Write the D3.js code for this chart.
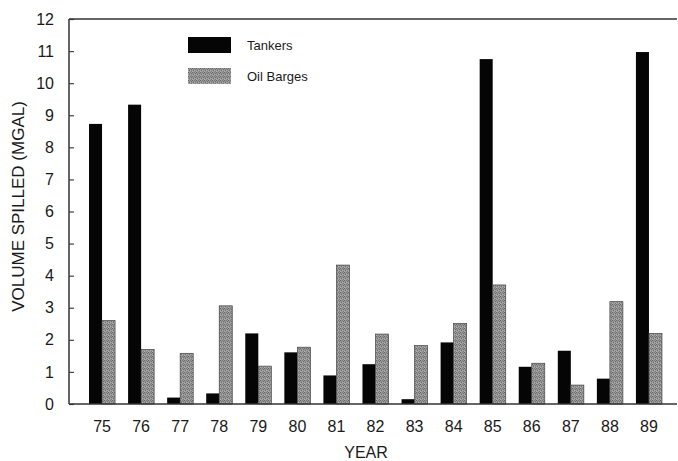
<!DOCTYPE html>
<html>
<head>
<meta charset="utf-8">
<script src="https://cdn.jsdelivr.net/npm/d3@7"></script>
<style>
  body { margin: 0; background: #fff; }
  svg { display: block; font-family: "Liberation Sans", Arial, sans-serif; }
</style>
</head>
<body>
<div id="chart"></div>
<script>
// values (million gallons)
var years = ["75", "76", "77", "78", "79", "80", "81", "82", "83", "84", "85", "86", "87", "88", "89"];
var tankers = [8.73, 9.33, 0.2, 0.33, 2.2, 1.61, 0.89, 1.24, 0.15, 1.92, 10.75, 1.16, 1.66, 0.79, 10.97];
var barges = [2.6, 1.7, 1.58, 3.06, 1.18, 1.77, 4.33, 2.18, 1.82, 2.51, 3.71, 1.27, 0.59, 3.19, 2.2];
var yTicks = [0, 1, 2, 3, 4, 5, 6, 7, 8, 9, 10, 11, 12];
var seriesNames = ["Tankers", "Oil Barges"];

var width = 678, height = 461;
// note: "top" is taken by window.top, so plot edges get their own names
var plotL = 69, plotR = 677, plotT = 19, plotB = 404;

var svg = d3.select("#chart").append("svg")
  .attr("width", width)
  .attr("height", height);

// stipple texture for the barge bars (4x4 tile, irregular low-contrast dots)
var defs = svg.append("defs");
var pat = defs.append("pattern")
  .attr("id", "stipple")
  .attr("patternUnits", "userSpaceOnUse")
  .attr("width", 4).attr("height", 4);
pat.append("rect").attr("width", 4).attr("height", 4).attr("fill", "#9a9a9a");
[[0, 0, "#666"], [2, 0, "#7a7a7a"], [3, 1, "#6c6c6c"], [1, 2, "#707070"],
 [3, 3, "#787878"], [0, 3, "#b0b0b0"], [2, 2, "#acacac"], [1, 1, "#858585"]].forEach(function(p) {
  pat.append("rect").attr("x", p[0]).attr("y", p[1]).attr("width", 1).attr("height", 1).attr("fill", p[2]);
});

var fills = ["#050505", "url(#stipple)"];

var x = d3.scaleBand()
  .domain(years)
  .range([76, 675])
  .paddingInner(1 / 3)
  .paddingOuter(1 / 3);

var y = d3.scaleLinear()
  .domain([0, 12])
  .range([plotB, plotT]);

var bw = x.bandwidth() / 2;

// bars
var groups = svg.selectAll("g.year")
  .data(years)
  .enter()
  .append("g")
  .attr("class", "year");

groups.append("rect")
  .attr("x", function(d) { return x(d); })
  .attr("y", function(d, i) { return y(tankers[i]); })
  .attr("width", bw)
  .attr("height", function(d, i) { return plotB - y(tankers[i]); })
  .attr("fill", fills[0]);

groups.append("rect")
  .attr("x", function(d) { return x(d) + bw; })
  .attr("y", function(d, i) { return y(barges[i]); })
  .attr("width", bw)
  .attr("height", function(d, i) { return plotB - y(barges[i]); })
  .attr("fill", fills[1])
  .attr("stroke", "#444")
  .attr("stroke-width", 0.7);

// y axis, ticks pointing inward
var yAxis = svg.append("g")
  .attr("transform", "translate(" + plotL + ",0)")
  .call(d3.axisLeft(y).tickValues(yTicks).tickSizeInner(-5).tickSizeOuter(0).tickPadding(15));
yAxis.select(".domain").remove();
yAxis.selectAll(".tick line").attr("stroke", "#444").attr("stroke-width", 1.2);
yAxis.selectAll("text")
  .attr("font-size", 16)
  .attr("fill", "#1a1a1a")
  .attr("font-family", "Liberation Sans, Arial, sans-serif");

// x axis labels
var xAxis = svg.append("g")
  .attr("transform", "translate(0," + plotB + ")")
  .call(d3.axisBottom(x).tickSize(0).tickPadding(17));
xAxis.select(".domain").remove();
xAxis.selectAll("text")
  .attr("font-size", 16)
  .attr("fill", "#1a1a1a")
  .attr("font-family", "Liberation Sans, Arial, sans-serif");

// frame lines: left, top, bottom
svg.append("line")
  .attr("x1", plotL).attr("x2", plotL).attr("y1", plotT).attr("y2", plotB)
  .attr("stroke", "#333").attr("stroke-width", 1.5);
svg.append("line")
  .attr("x1", plotL).attr("x2", plotR).attr("y1", plotT).attr("y2", plotT)
  .attr("stroke", "#333").attr("stroke-width", 1.5);
svg.append("line")
  .attr("x1", plotL).attr("x2", plotR).attr("y1", plotB).attr("y2", plotB)
  .attr("stroke", "#333").attr("stroke-width", 1.5);

// axis titles
svg.append("text")
  .attr("transform", "translate(24," + ((plotT + plotB) / 2 - 5) + ") rotate(-90)")
  .attr("text-anchor", "middle")
  .attr("font-size", 17)
  .attr("fill", "#1a1a1a")
  .text("VOLUME SPILLED (MGAL)");

svg.append("text")
  .attr("x", 366)
  .attr("y", 458)
  .attr("text-anchor", "middle")
  .attr("font-size", 16)
  .attr("fill", "#1a1a1a")
  .text("YEAR");

// legend
var legend = svg.selectAll("g.legend")
  .data(seriesNames)
  .enter()
  .append("g")
  .attr("class", "legend")
  .attr("transform", function(d, i) { return "translate(188," + (37 + i * 31) + ")"; });

legend.append("rect")
  .attr("width", 43)
  .attr("height", 16)
  .attr("fill", function(d, i) { return fills[i]; });

legend.append("text")
  .attr("x", 59)
  .attr("y", 13)
  .attr("font-size", 13)
  .attr("fill", "#1a1a1a")
  .text(function(d) { return d; });
</script>
</body>
</html>
